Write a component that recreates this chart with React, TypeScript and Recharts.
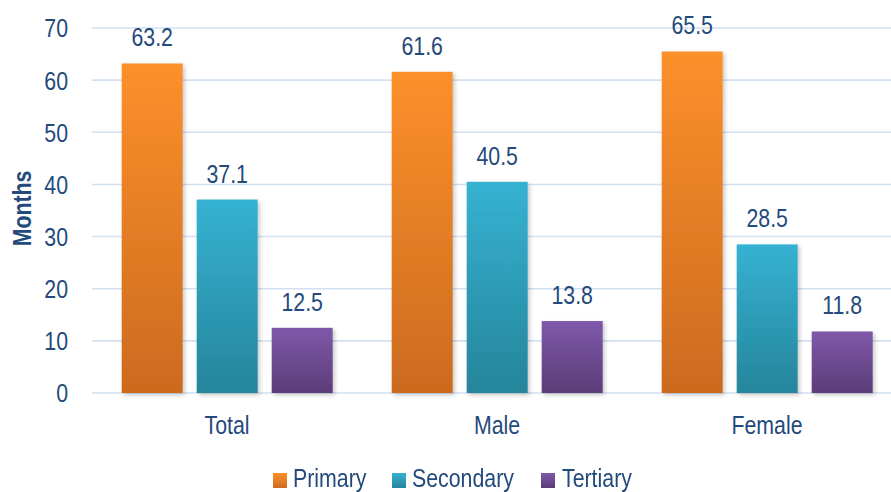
import React from "react";
import { BarChart, Bar, XAxis, YAxis, CartesianGrid, Legend, LabelList, Label } from "recharts";

const categories = ["Total", "Male", "Female"];
const primaryValues = [63.2, 61.6, 65.5];
const secondaryValues = [37.1, 40.5, 28.5];
const tertiaryValues = [12.5, 13.8, 11.8];
const yTicks = [0, 10, 20, 30, 40, 50, 60, 70];

const seriesInfo = [
  { key: "Primary", top: "#fc902b", bottom: "#cc6a1f" },
  { key: "Secondary", top: "#36b2d2", bottom: "#25859b" },
  { key: "Tertiary", top: "#7f58aa", bottom: "#5b3d78" },
];

const data = categories.map((c, i) => ({
  name: c,
  Primary: primaryValues[i],
  Secondary: secondaryValues[i],
  Tertiary: tertiaryValues[i],
}));

const FONT = "'Liberation Sans', Arial, sans-serif";
const TEXT = "#244a7c";
const FS = 26;
const SX = 0.82;

const NarrowText = ({ x, y, anchor, dy, bold, children }: any) => (
  <text
    transform={`translate(${x},${y}) scale(${SX},1)`}
    textAnchor={anchor}
    dy={dy}
    fill={TEXT}
    fontSize={FS}
    fontFamily={FONT}
    fontWeight={bold ? "bold" : "normal"}
  >
    {children}
  </text>
);

const XTick = (props: any) => (
  <NarrowText x={props.x} y={props.y} anchor="middle" dy="0.71em">
    {props.payload.value}
  </NarrowText>
);

const YTick = (props: any) => (
  <NarrowText x={props.x} y={props.y} anchor="end" dy="0.36em">
    {props.payload.value}
  </NarrowText>
);

const ValueLabel = (props: any) => {
  const { x, y, width, value } = props;
  return (
    <NarrowText x={Number(x) + Number(width) / 2} y={Number(y) - 17} anchor="middle">
      {Number(value).toFixed(1)}
    </NarrowText>
  );
};

const MonthsLabel = (props: any) => {
  const vb = props.viewBox || { x: 0, y: 28, height: 365 };
  const cx = 22;
  const cy = vb.y + vb.height / 2 - 2;
  return (
    <text
      transform={`translate(${cx},${cy}) rotate(-90) scale(${SX},1)`}
      textAnchor="middle"
      dy="0.36em"
      fill={TEXT}
      fontSize={FS}
      fontFamily={FONT}
      fontWeight="bold"
    >
      Months
    </text>
  );
};

const makeShape = (key: string) => (props: any) => {
  const { x, y, width, height } = props;
  if (!height || height <= 0) return null;
  return (
    <rect
      x={x}
      y={y}
      width={width}
      height={height}
      fill={`url(#grad-${key})`}
      filter="url(#barShadow)"
    />
  );
};

const legendPos = [
  { sq: 273, tx: 293 },
  { sq: 392, tx: 412 },
  { sq: 541, tx: 562 },
];

const LegendContent = () => (
  <div style={{ position: "relative", width: 891, height: 27 }}>
    {seriesInfo.map((s, i) => (
      <React.Fragment key={s.key}>
        <div
          style={{
            position: "absolute",
            left: legendPos[i].sq,
            top: 8,
            width: 14,
            height: 15,
            background: `linear-gradient(${s.top}, ${s.bottom})`,
          }}
        />
        <div
          style={{
            position: "absolute",
            left: legendPos[i].tx,
            top: 0,
            fontFamily: FONT,
            fontSize: FS,
            lineHeight: `${FS}px`,
            color: TEXT,
            whiteSpace: "nowrap",
            transform: `scaleX(${SX})`,
            transformOrigin: "left top",
          }}
        >
          {s.key}
        </div>
      </React.Fragment>
    ))}
  </div>
);

export default function App() {
  return (
    <div
      style={{
        position: "absolute",
        left: 0,
        top: 0,
        width: 891,
        height: 492,
        overflow: "hidden",
        background: "#fff",
      }}
    >
      <BarChart
        width={891}
        height={492}
        data={data}
        margin={{ top: 28, right: 0, left: 0, bottom: 0 }}
        barCategoryGap="11%"
        barGap={14}
      >
        <defs>
          {seriesInfo.map((s) => (
            <linearGradient key={s.key} id={`grad-${s.key}`} x1="0" y1="0" x2="0" y2="1">
              <stop offset="0%" stopColor={s.top} />
              <stop offset="100%" stopColor={s.bottom} />
            </linearGradient>
          ))}
          <filter id="barShadow" x="-20%" y="-20%" width="140%" height="140%">
            <feDropShadow dx="2" dy="2" stdDeviation="2" floodColor="#000" floodOpacity="0.22" />
          </filter>
        </defs>
        <CartesianGrid vertical={false} stroke="#d3e0f1" strokeWidth={1.6} />
        <XAxis
          dataKey="name"
          axisLine={false}
          tickLine={false}
          tickSize={0}
          tickMargin={23}
          height={72}
          padding={{ left: 0, right: -11 }}
          tick={<XTick />}
        />
        <YAxis
          domain={[0, 70]}
          ticks={yTicks}
          axisLine={false}
          tickLine={false}
          tickSize={0}
          tickMargin={24}
          width={92}
          tick={<YTick />}
        >
          <Label content={<MonthsLabel />} />
        </YAxis>
        <Legend
          verticalAlign="bottom"
          height={27}
          content={<LegendContent />}
          wrapperStyle={{ top: 465, left: 0, width: 891, height: 27 }}
        />
        {seriesInfo.map((s) => (
          <Bar key={s.key} dataKey={s.key} isAnimationActive={false} shape={makeShape(s.key)}>
            <LabelList dataKey={s.key} content={<ValueLabel />} />
          </Bar>
        ))}
      </BarChart>
    </div>
  );
}
